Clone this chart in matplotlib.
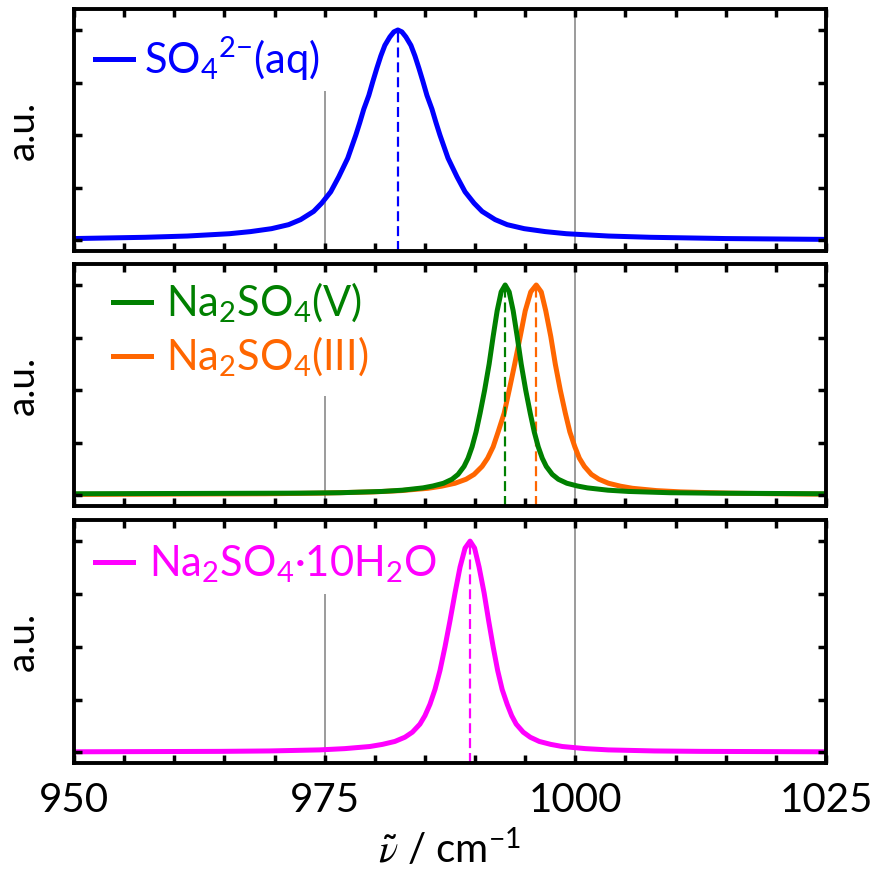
import numpy as np
import matplotlib
matplotlib.use('Agg')
import matplotlib.pyplot as plt

plt.rcParams['font.family'] = ['Lato', 'DejaVu Sans']
plt.rcParams['mathtext.fontset'] = 'custom'
plt.rcParams['mathtext.rm'] = 'Lato'
plt.rcParams['mathtext.it'] = 'STIXGeneral:italic'
plt.rcParams['mathtext.default'] = 'regular'

# spectra (wavenumber, normalised intensity)
aq_x = [950, 957.1, 961.3, 965.5, 967.6, 969.7, 971.4, 972.6, 973.9, 974.7, 975.6, 976.4,
        977.3, 978.1, 978.5, 978.9, 979.4, 979.8, 980.2, 980.6, 981.0, 981.5, 981.9, 982.3,
        982.7, 983.1, 983.6, 984.0, 984.4, 984.8, 985.2, 985.7, 986.1, 986.5, 987.3, 988.2,
        989.0, 989.9, 990.7, 992.0, 993.2, 994.9, 997.0, 999.1, 1003.3, 1007.5, 1015, 1025]
aq_y = [0.009, 0.015, 0.021, 0.032, 0.042, 0.056, 0.075, 0.099, 0.138, 0.177, 0.231, 0.302,
        0.391, 0.50, 0.56, 0.624, 0.689, 0.755, 0.818, 0.877, 0.927, 0.967, 0.991, 1.0,
        0.991, 0.967, 0.927, 0.877, 0.818, 0.755, 0.689, 0.624, 0.56, 0.50, 0.391, 0.302,
        0.231, 0.177, 0.138, 0.099, 0.075, 0.056, 0.042, 0.032, 0.021, 0.015, 0.009, 0.005]

v_x = [950, 972.5, 976.6, 980.7, 982.75, 984.8, 985.8, 986.85, 987.7, 988.3, 988.9, 989.3,
       989.7, 990.1, 990.5, 990.95, 991.4, 991.8, 992.2, 992.6, 993.0, 993.4, 993.8, 994.2,
       994.6, 995.05, 995.5, 995.9, 996.3, 996.7, 997.1, 997.7, 998.3, 999.15, 1000.2,
       1001.2, 1003.25, 1005.3, 1009.4, 1013.5, 1025]
v_y = [0.008, 0.011, 0.013, 0.019, 0.025, 0.036, 0.045, 0.058, 0.077, 0.10, 0.138, 0.177,
       0.231, 0.302, 0.391, 0.50, 0.624, 0.755, 0.877, 0.967, 1.0, 0.967, 0.877, 0.755,
       0.624, 0.50, 0.391, 0.302, 0.231, 0.177, 0.138, 0.10, 0.077, 0.058, 0.045, 0.036,
       0.025, 0.019, 0.013, 0.011, 0.008]

iii_x = [950, 969.1, 974.5, 979.9, 982.6, 985.3, 986.65, 988.0, 989.1, 989.9, 990.7, 991.25,
         991.8, 992.3, 992.9, 993.4, 993.95, 994.5, 995.0, 995.55, 996.1, 996.6, 997.05,
         997.55, 998.0, 998.5, 999.0, 999.45, 999.95, 1000.4, 1000.9, 1001.6, 1002.35,
         1003.3, 1004.5, 1005.7, 1008.1, 1010.5, 1015.3, 1020.1, 1025]
iii_y = [0.005, 0.008, 0.011, 0.017, 0.023, 0.034, 0.044, 0.058, 0.077, 0.10, 0.138, 0.177,
         0.231, 0.302, 0.391, 0.50, 0.624, 0.755, 0.877, 0.967, 1.0, 0.967, 0.877, 0.755,
         0.624, 0.50, 0.391, 0.302, 0.231, 0.177, 0.138, 0.10, 0.077, 0.058, 0.044, 0.034,
         0.023, 0.017, 0.011, 0.008, 0.006]

hyd_x = [950, 964.5, 969.5, 974.5, 977.0, 979.5, 980.75, 982.0, 983.0, 983.75, 984.5,
         985.0, 985.5, 986.0, 986.5, 987.0, 987.5, 988.0, 988.5, 989.0, 989.5, 989.95,
         990.4, 990.9, 991.35, 991.8, 992.25, 992.7, 993.2, 993.65, 994.1, 994.8, 995.5,
         996.4, 997.55, 998.7, 1001.0, 1003.3, 1007.9, 1012.5, 1025]
hyd_y = [0.003, 0.005, 0.007, 0.012, 0.018, 0.028, 0.038, 0.052, 0.072, 0.096, 0.134,
         0.174, 0.228, 0.298, 0.388, 0.50, 0.624, 0.755, 0.877, 0.967, 1.0, 0.967,
         0.877, 0.755, 0.624, 0.50, 0.388, 0.298, 0.228, 0.174, 0.134, 0.096, 0.072,
         0.052, 0.038, 0.028, 0.018, 0.012, 0.007, 0.005, 0.003]

peak_aq = 982.3
peak_v = 993.0
peak_iii = 996.1
peak_hyd = 989.5

grid_x = [975, 1000]
xticks = [950, 975, 1000, 1025]
yticks = [0, 0.25, 0.5, 0.75, 1.0]
ylo, yhi = -0.05, 1.1

blue = '#0000ff'
green = '#008000'
orange = '#ff6600'
magenta = '#ff00ff'
dash = (0, (4.5, 2.2))

fig = plt.figure(figsize=(8.78, 8.76), dpi=100)
ax1 = fig.add_axes([0.0843, 0.7135, 0.8565, 0.2763])
ax2 = fig.add_axes([0.0843, 0.4224, 0.8565, 0.2763])
ax3 = fig.add_axes([0.0843, 0.1290, 0.8565, 0.2774])

ax1.plot(aq_x, aq_y, color=blue, lw=3.6, label='SO$_4$$^{2{-}}$(aq)')
ax1.vlines(peak_aq, ylo, 1.0, color=blue, lw=1.6, linestyles=dash)

ax2.plot(iii_x, iii_y, color=orange, lw=3.6, label='Na$_2$SO$_4$(III)', zorder=2)
ax2.plot(v_x, v_y, color=green, lw=3.6, label='Na$_2$SO$_4$(V)', zorder=2.1)
ax2.vlines(peak_v, ylo, 1.0, color=green, lw=1.6, linestyles=dash)
ax2.vlines(peak_iii, ylo, 1.0, color=orange, lw=1.6, linestyles=dash)

ax3.plot(hyd_x, hyd_y, color=magenta, lw=3.6, label='Na$_2$SO$_4$·10H$_2$O')
ax3.vlines(peak_hyd, ylo, 1.0, color=magenta, lw=1.6, linestyles=dash)

# per panel legend placement: (anchor x, text pad, border pad, title size)
leg_opts = {ax1: (0.017, 0.27, 0.2, 5),
            ax2: (0.030, 0.36, 0.4, None),
            ax3: (0.017, 0.40, 0.2, 3.5)}

for ax in (ax1, ax2, ax3):
    ax.set_xlim(950, 1025)
    ax.set_ylim(ylo, yhi)
    ax.set_axisbelow(False)
    for gx in grid_x:
        ax.axvline(gx, color='#8a8a8a', lw=1.2, zorder=0.5)
    ax.set_xticks(xticks)
    ax.set_xticks(np.arange(950, 1026, 5), minor=True)
    ax.set_yticks(yticks)
    ax.set_yticklabels([])
    ax.tick_params(which='both', direction='in', top=True, right=True,
                   length=6, width=2.5, labelsize=29, pad=14)
    for s in ax.spines.values():
        s.set_linewidth(2.8)
    ax.set_ylabel('a.u.', fontsize=28, labelpad=10)
    if ax is not ax3:
        ax.tick_params(labelbottom=False)

    for ln in ax.get_lines():
        ln.set_solid_joinstyle('round')

    handles, labels = ax.get_legend_handles_labels()
    if ax is ax2:
        handles, labels = handles[::-1], labels[::-1]
    bx, tpad, bpad, tsize = leg_opts[ax]
    kw = {}
    if tsize:
        kw = dict(title=' ', title_fontsize=tsize)
    leg = ax.legend(handles, labels, loc='upper left', bbox_to_anchor=(bx, 1.0),
                    fontsize=30, handlelength=0.9, handletextpad=tpad,
                    labelspacing=0.25, borderpad=bpad, borderaxespad=0,
                    frameon=True, fancybox=False, framealpha=1,
                    edgecolor='none', facecolor='white', labelcolor='linecolor', **kw)
    leg.set_zorder(1)

ax3.set_xlabel(r'$\mathit{\tilde{\nu}}$ / cm$^{-1}$', fontsize=29, labelpad=6)

fig.savefig('out.png', dpi=100)
